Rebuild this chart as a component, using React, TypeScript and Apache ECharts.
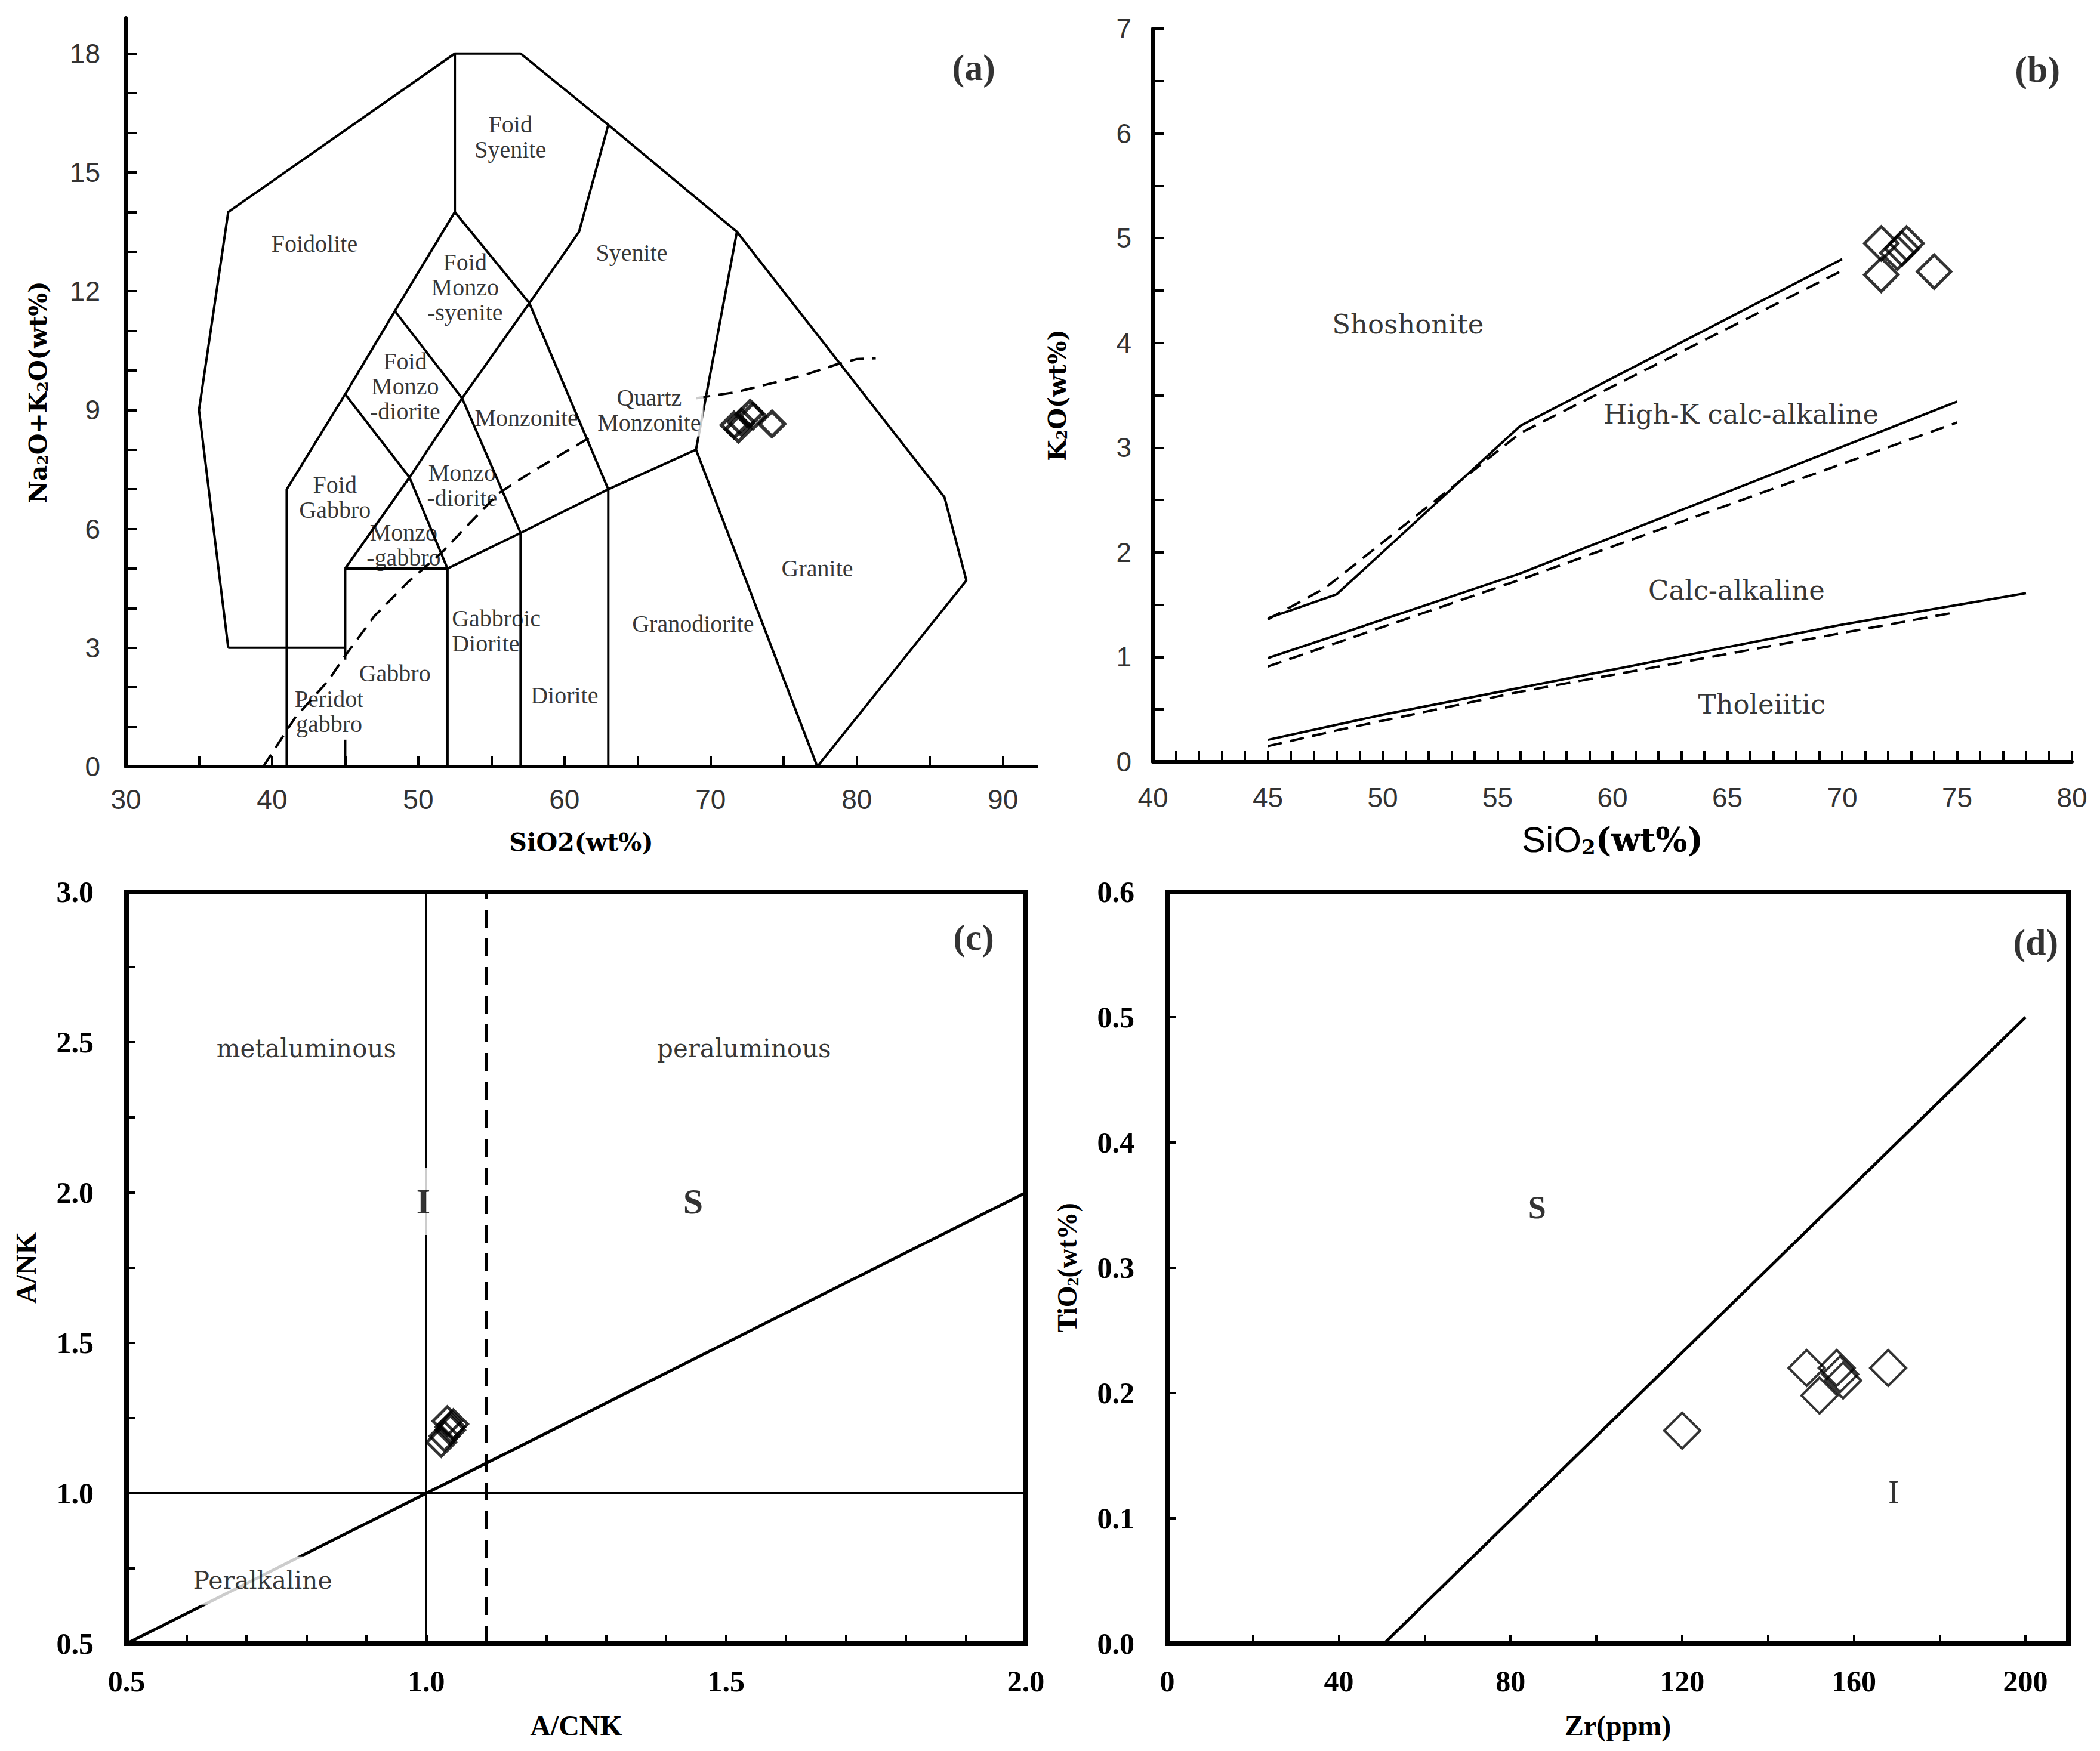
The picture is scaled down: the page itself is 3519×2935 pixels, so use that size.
import React, { useEffect, useRef } from "react";
import * as echarts from "echarts";

// ---------- Panel (a): TAS diagram ----------
const aXLabels = [30, 40, 50, 60, 70, 80, 90];
const aYLabels = [0, 3, 6, 9, 12, 15, 18];
const tasBoundaries: number[][][] = [
  [[37, 3], [35, 9], [37, 14], [52.5, 18], [57, 18], [63, 16.2], [71.8, 13.5], [86, 6.8], [87.5, 4.7], [77.3, 0]],
  [[37, 3], [45, 3]],
  [[41, 0], [41, 7], [45, 9.4], [48.4, 11.5], [52.5, 14], [57.6, 11.7], [63, 7]],
  [[52.5, 14], [52.5, 18]],
  [[45, 9.4], [49.4, 7.3], [53, 9.3], [57.6, 11.7], [61, 13.5], [63, 16.2]],
  [[48.4, 11.5], [53, 9.3], [57, 5.9], [57, 0]],
  [[45, 2.7], [45, 5], [52, 5], [52, 0]],
  [[45, 0], [45, 0.68]],
  [[45, 5], [49.4, 7.3], [52, 5]],
  [[52, 5], [57, 5.9], [63, 7], [69, 8], [77.3, 0]],
  [[63, 7], [63, 0]],
  [[69, 8], [71.8, 13.5]],
];
const alkalineLine1 = [[39.4, 0], [41.6, 1.25], [43.8, 2.15], [45.1, 2.85], [47, 3.8], [49.3, 4.66], [51.6, 5.4], [53.4, 6.1], [55.5, 6.9], [57.6, 7.4], [59.4, 7.8], [61.7, 8.3]];
const alkalineLine2 = [[69, 9.3], [71.7, 9.45], [74, 9.66], [76.3, 9.87], [78.6, 10.15], [80, 10.29], [81.3, 10.31]];
const tasLabels = [
  { text: "Foid\nSyenite", at: [56.3, 15.9] },
  { text: "Foidolite", at: [42.9, 13.2] },
  { text: "Syenite", at: [64.6, 12.97] },
  { text: "Foid\nMonzo\n-syenite", at: [53.2, 12.1] },
  { text: "Foid\nMonzo\n-diorite", at: [49.1, 9.6] },
  { text: "Monzonite", at: [57.4, 8.8] },
  { text: "Foid\nGabbro", at: [44.3, 6.8] },
  { text: "Monzo\n-diorite", at: [53.0, 7.1] },
  { text: "Monzo\n-gabbro", at: [49.0, 5.6] },
  { text: "Granodiorite", at: [68.8, 3.6] },
  { text: "Granite", at: [77.3, 5.0] },
  { text: "Gabbro", at: [48.4, 2.36] },
  { text: "Diorite", at: [60.0, 1.8] },
  { text: "Peridot\ngabbro", at: [43.9, 1.39] },
];
const tasLabelsLeft = [{ text: "Gabbroic\nDiorite", at: [52.3, 3.43] }];
const tasLabelsBg = [{ text: "Quartz\nMonzonite", at: [65.8, 9.0] }];
const samplesA = [[71.6, 8.62], [71.9, 8.52], [72.1, 8.7], [72.7, 8.92], [72.9, 8.85], [74.2, 8.65]];

// ---------- Panel (b): SiO2 - K2O ----------
const bXLabels = [40, 45, 50, 55, 60, 65, 70, 75, 80];
const bYLabels = [0, 1, 2, 3, 4, 5, 6, 7];
const bSolid1 = [[45, 1.37], [48, 1.6], [56, 3.21], [70, 4.8]];
const bDash1 = [[45, 1.36], [47.5, 1.66], [56, 3.14], [70, 4.69]];
const bSolid2 = [[45, 0.99], [56, 1.8], [75, 3.44]];
const bDash2 = [[45, 0.91], [56, 1.74], [75, 3.24]];
const bSolid3 = [[45, 0.21], [50, 0.45], [60, 0.88], [70, 1.31], [78, 1.61]];
const bDash3 = [[45, 0.15], [48, 0.3], [56, 0.67], [75, 1.43]];
const bLabels = [
  { text: "Shoshonite", at: [51.1, 4.18] },
  { text: "High-K calc-alkaline", at: [65.6, 3.32] },
  { text: "Calc-alkaline", at: [65.4, 1.64] },
  { text: "Tholeiitic", at: [66.5, 0.55] },
];
const samplesB = [[71.7, 4.95], [71.7, 4.65], [72.4, 4.86], [72.6, 4.9], [72.8, 4.95], [74.0, 4.68]];

// ---------- Panel (c): A/CNK - A/NK ----------
const cXLabels = [0.5, 1.0, 1.5, 2.0];
const cYLabels = [0.5, 1.0, 1.5, 2.0, 2.5, 3.0];
const cVertical = [[1.0, 0.5], [1.0, 3.0]];
const cDashed = [[1.1, 0.5], [1.1, 3.0]];
const cHorizontal = [[0.5, 1.0], [2.0, 1.0]];
const cDiagonal = [[0.5, 0.5], [2.0, 2.0]];
const samplesC = [[1.035, 1.24], [1.045, 1.23], [1.04, 1.21], [1.03, 1.19], [1.025, 1.17], [1.04, 1.22]];

// ---------- Panel (d): Zr - TiO2 ----------
const dXLabels = [0, 40, 80, 120, 160, 200];
const dYLabels = [0.0, 0.1, 0.2, 0.3, 0.4, 0.5, 0.6];
const dLine = [[50.5, 0], [200, 0.5]];
const samplesD = [[120, 0.17], [149, 0.22], [156, 0.22], [156.8, 0.215], [157.5, 0.21], [152, 0.198], [168, 0.22]];

const serif = "'Liberation Serif', 'Times New Roman', serif";
const dvSerif = "'DejaVu Serif', serif";
const sans = "'Liberation Sans', Arial, sans-serif";

function steps(a: number, b: number, s: number) {
  const out: number[] = [];
  const n = Math.round((b - a) / s);
  for (let i = 0; i <= n; i++) out.push(Math.round((a + i * s) * 1000) / 1000);
  return out;
}

function lineSeries(axis: number, pts: number[][], width = 4, dash: any = "solid") {
  return {
    type: "line", xAxisIndex: axis, yAxisIndex: axis, data: pts, symbol: "none", silent: true, z: 3,
    lineStyle: { color: "#000", width, type: dash },
  };
}

function textSeries(axis: number, items: { text: string; at: number[] }[], style: any) {
  return {
    type: "scatter", xAxisIndex: axis, yAxisIndex: axis, silent: true, z: 6,
    symbolSize: 1, itemStyle: { color: "rgba(0,0,0,0)" },
    data: items.map((it) => ({ name: it.text, value: it.at })),
    label: { show: true, position: "inside", formatter: "{b}", color: "#000", align: "center", verticalAlign: "middle", ...style },
  };
}

function pointSeries(axis: number, pts: number[][], size: any, bw: number) {
  return {
    type: "scatter", xAxisIndex: axis, yAxisIndex: axis, silent: true, z: 5,
    symbol: "diamond", symbolSize: size, data: pts,
    itemStyle: { color: "rgba(0,0,0,0)", borderColor: "#000", borderWidth: bw },
  };
}

function axisBase(grid: number, min: number, max: number, ticks: number[], labels: number[], tickLen: number, lineW: number, labelStyle: any) {
  return {
    gridIndex: grid, type: "value", min, max,
    axisLine: { show: true, onZero: false, lineStyle: { color: "#000", width: lineW } },
    axisTick: { show: true, inside: true, length: tickLen, lineStyle: { color: "#000", width: 4 }, customValues: ticks },
    axisLabel: { show: true, customValues: labels, ...labelStyle },
    splitLine: { show: false },
  };
}

const abLabel = { fontFamily: sans, fontSize: 46, color: "#333" };
const cdLabel = { fontFamily: serif, fontWeight: "bold", fontSize: 50, color: "#000" };
const titleRich = (size: number, fam: string) => ({
  b: { fontFamily: fam, fontWeight: "bold", fontSize: size, color: "#000" },
  sub: { fontFamily: fam, fontWeight: "bold", fontSize: Math.round(size * 0.6), color: "#000", verticalAlign: "bottom" },
  s: { fontFamily: sans, fontSize: size + 4, color: "#000" },
});

export default function App() {
  const ref = useRef<HTMLDivElement>(null);
  useEffect(() => {
    if (!ref.current) return;
    const chart = echarts.init(ref.current, null, { renderer: "svg" });
    const option: any = {
      animation: false,
      backgroundColor: "#fff",
      grid: [
        { left: 211, top: 30, width: 1526, height: 1255 },
        { left: 1932, top: 48, width: 1540, height: 1229 },
        { left: 212, top: 1495, width: 1507, height: 1260, show: true, borderColor: "#000", borderWidth: 8 },
        { left: 1956, top: 1495, width: 1510, height: 1260, show: true, borderColor: "#000", borderWidth: 8 },
      ],
      xAxis: [
        {
          ...axisBase(0, 30, 92.3, steps(30, 90, 5), aXLabels, 18, 6, { ...abLabel, margin: 32 }),
          name: "SiO2(wt%)", nameLocation: "middle", nameGap: 106,
          nameTextStyle: { fontFamily: dvSerif, fontWeight: "bold", fontSize: 41, color: "#000" },
        },
        {
          ...axisBase(1, 40, 80, steps(40, 80, 1), bXLabels, 18, 6, { ...abLabel, margin: 37 }),
          name: "{s|SiO}{sub|2}{b|(wt%)}", nameLocation: "middle", nameGap: 100,
          nameTextStyle: { rich: titleRich(56, dvSerif) },
        },
        {
          ...axisBase(2, 0.5, 2.0, steps(0.5, 2.0, 0.1), cXLabels, 14, 8, { ...cdLabel, margin: 38, formatter: (v: number) => v.toFixed(1) }),
          name: "A/CNK", nameLocation: "middle", nameGap: 113,
          nameTextStyle: { fontFamily: serif, fontWeight: "bold", fontSize: 48, color: "#000" },
        },
        {
          ...axisBase(3, 0, 210, steps(0, 200, 20), dXLabels, 14, 8, { ...cdLabel, margin: 38 }),
          name: "Zr(ppm)", nameLocation: "middle", nameGap: 113,
          nameTextStyle: { fontFamily: serif, fontWeight: "bold", fontSize: 48, color: "#000" },
        },
      ],
      yAxis: [
        {
          ...axisBase(0, 0, 18.9, steps(0, 18, 1), aYLabels, 18, 6, { ...abLabel, margin: 43 }),
          name: "{b|Na}{sub|2}{b|O+K}{sub|2}{b|O(wt%)}", nameLocation: "middle", nameGap: 127,
          nameTextStyle: { rich: titleRich(41, dvSerif) },
        },
        {
          ...axisBase(1, 0, 7, steps(0, 7, 0.5), bYLabels, 18, 6, { ...abLabel, margin: 36 }),
          name: "{b|K}{sub|2}{b|O(wt%)}", nameLocation: "middle", nameGap: 140,
          nameTextStyle: { rich: titleRich(41, dvSerif) },
        },
        {
          ...axisBase(2, 0.5, 3.0, steps(0.5, 3.0, 0.25), cYLabels, 14, 8, { ...cdLabel, margin: 55, formatter: (v: number) => v.toFixed(1) }),
          name: "A/NK", nameLocation: "middle", nameGap: 145,
          nameTextStyle: { fontFamily: serif, fontWeight: "bold", fontSize: 48, color: "#000" },
        },
        {
          ...axisBase(3, 0, 0.6, steps(0, 0.6, 0.1), dYLabels, 14, 8, { ...cdLabel, margin: 55, formatter: (v: number) => v.toFixed(1) }),
          name: "{b|TiO}{sub|2}{b|(wt%)}", nameLocation: "middle", nameGap: 145,
          nameTextStyle: { rich: titleRich(46, serif) },
        },
      ],
      series: [
        // (a)
        ...tasBoundaries.map((p) => lineSeries(0, p, 4)),
        lineSeries(0, alkalineLine1, 4, [24, 14]),
        lineSeries(0, alkalineLine2, 4, [24, 14]),
        textSeries(0, tasLabels, { fontFamily: serif, fontSize: 40, lineHeight: 42 }),
        textSeries(0, tasLabelsLeft, { fontFamily: serif, fontSize: 40, lineHeight: 42, align: "left" }),
        textSeries(0, tasLabelsBg, { fontFamily: serif, fontSize: 40, lineHeight: 42, backgroundColor: "#fff", padding: [2, 4] }),
        textSeries(0, [{ text: "(a)", at: [88.0, 17.65] }], { fontFamily: serif, fontWeight: "bold", fontSize: 62 }),
        pointSeries(0, samplesA, 42, 6),
        // (b)
        lineSeries(1, bSolid1, 4),
        lineSeries(1, bDash1, 4, [24, 14]),
        lineSeries(1, bSolid2, 4),
        lineSeries(1, bDash2, 4, [24, 14]),
        lineSeries(1, bSolid3, 4),
        lineSeries(1, bDash3, 4, [24, 14]),
        textSeries(1, bLabels, { fontFamily: dvSerif, fontSize: 45 }),
        textSeries(1, [{ text: "(b)", at: [78.5, 6.61] }], { fontFamily: serif, fontWeight: "bold", fontSize: 62 }),
        pointSeries(1, samplesB, 56, 5),
        // (c)
        lineSeries(2, cVertical, 3),
        lineSeries(2, cDashed, 5, [30, 18]),
        lineSeries(2, cHorizontal, 4),
        lineSeries(2, cDiagonal, 5),
        textSeries(2, [{ text: "metaluminous", at: [0.8, 2.48] }, { text: "peraluminous", at: [1.53, 2.48] }], { fontFamily: dvSerif, fontSize: 42 }),
        textSeries(2, [{ text: "Peralkaline", at: [0.727, 0.71] }], { fontFamily: dvSerif, fontSize: 41, backgroundColor: "#fff", padding: [20, 6] }),
        textSeries(2, [{ text: "I", at: [0.995, 1.97] }], { fontFamily: serif, fontWeight: "bold", fontSize: 60, backgroundColor: "#fff", padding: [26, 8] }),
        textSeries(2, [{ text: "S", at: [1.445, 1.97] }], { fontFamily: serif, fontWeight: "bold", fontSize: 60 }),
        textSeries(2, [{ text: "(c)", at: [1.913, 2.85] }], { fontFamily: serif, fontWeight: "bold", fontSize: 62 }),
        pointSeries(2, samplesC, 48, 5),
        // (d)
        lineSeries(3, dLine, 5),
        textSeries(3, [{ text: "S", at: [86.2, 0.348] }], { fontFamily: serif, fontWeight: "bold", fontSize: 54 }),
        textSeries(3, [{ text: "I", at: [169.3, 0.121] }], { fontFamily: serif, fontSize: 54 }),
        textSeries(3, [{ text: "(d)", at: [202.4, 0.56] }], { fontFamily: serif, fontWeight: "bold", fontSize: 62 }),
        pointSeries(3, samplesD, 60, 4),
      ],
    };
    chart.setOption(option);
    return () => chart.dispose();
  }, []);
  return <div ref={ref} style={{ position: "absolute", left: 0, top: 0, width: 3519, height: 2935, background: "#fff" }} />;
}
